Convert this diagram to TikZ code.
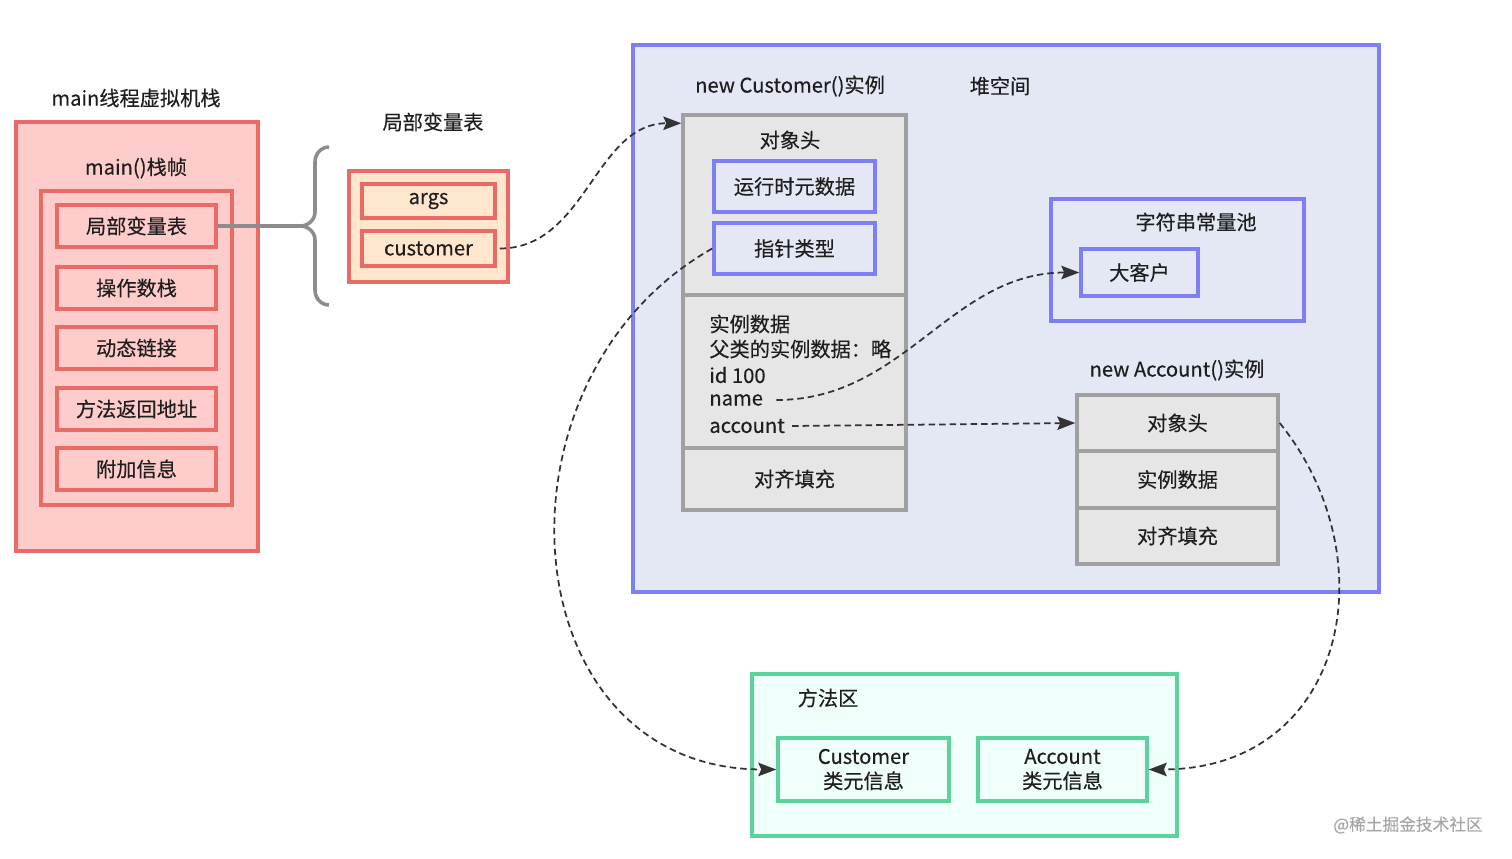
\documentclass[tikz,border=0pt]{standalone}
\usepackage{fontspec}
\setmainfont{Noto Sans CJK SC}[FakeBold=0.3]
\usetikzlibrary{arrows.meta}

\definecolor{redline}{HTML}{EA6B66}
\definecolor{redfill}{HTML}{FFCCCC}
\definecolor{orangefill}{HTML}{FFE6CC}
\definecolor{blueline}{HTML}{7F7FF5}
\definecolor{bluefill}{HTML}{E4E7F4}
\definecolor{grayline}{HTML}{A0A0A0}
\definecolor{grayfill}{HTML}{E6E6E6}
\definecolor{greenline}{HTML}{5CD39D}
\definecolor{greenfill}{HTML}{EFFFFA}
\definecolor{textcol}{HTML}{1E1E1E}

\begin{document}
\begin{tikzpicture}[x=0.02cm,y=-0.02cm,
  every node/.style={font=\fontsize{11.5}{14}\selectfont,text=textcol},
  redbox/.style={draw=redline,fill=redfill,line width=2pt,minimum width=3.18cm,minimum height=0.84cm},
  orangebox/.style={draw=redline,fill=orangefill,line width=2pt},
  bluebox/.style={draw=blueline,fill=bluefill,line width=2pt},
  graybox/.style={draw=grayline,fill=grayfill,line width=2pt},
  greenbox/.style={draw=greenline,fill=greenfill,line width=2pt},
  ref/.style={draw=black!80,line width=1pt,dash pattern=on 0.13cm off 0.08cm,
    -{Stealth[length=0.36cm,width=0.27cm,inset=0.06cm]}},
  textline/.style={anchor=west,inner sep=0pt}]
\useasboundingbox (0,0) rectangle (1512,859);

% main thread stack
\node (stacktitle) at (136,98) {main线程虚拟机栈};
\node[redbox,minimum width=4.84cm,minimum height=8.58cm] (stack) at (137,336.5) {};
\node (frametitle) at (136,168) {main()栈帧};
\node[redbox,minimum width=3.82cm,minimum height=6.28cm] (frame) at (136.5,348) {};
\node[redbox] (lvt) at (136.5,226) {局部变量表};
\node[redbox] (opstack) at (136.5,288) {操作数栈};
\node[redbox] (dynlink) at (136.5,348) {动态链接};
\node[redbox] (retaddr) at (136.5,409) {方法返回地址};
\node[redbox] (extra) at (136.5,469) {附加信息};

% brace
\coordinate (brace) at (300,226);
\draw[draw=black!45,line width=2pt] (329,147) to[out=180,in=90] (315,162) -- (315,212)
  to[out=270,in=0] (brace) to[out=0,in=90] (315,240) -- (315,290) to[out=270,in=180] (329,305);
\draw[draw=black!45,line width=2pt] (lvt.east) -- (brace);

% local variable table
\node (lvttitle) at (433,122) {局部变量表};
\node[orangebox,minimum width=3.18cm,minimum height=2.22cm] (lvtbox) at (428.5,226.5) {};
\node[orangebox,minimum width=2.66cm,minimum height=0.68cm] (args) at (428.5,201) {args};
\node[orangebox,minimum width=2.66cm,minimum height=0.7cm] (customer) at (428.5,248.5) {customer};

% heap
\node[bluebox,minimum width=14.92cm,minimum height=10.94cm] (heap) at (1006,318.5) {};
\node (custitle) at (790,86) {new Customer()实例};
\node (heaptitle) at (1000,86) {堆空间};
\node[graybox,minimum width=4.46cm,minimum height=3.6cm] (cushead) at (794.5,205) {};
\node[graybox,minimum width=4.46cm,minimum height=3.06cm] (cusdata) at (794.5,371.5) {};
\node[graybox,minimum width=4.46cm,minimum height=1.24cm] (cuspad) at (794.5,479) {对齐填充};
\node (cusheadlabel) at (790,140) {对象头};
\node[bluebox,minimum width=3.22cm,minimum height=1.02cm] (meta) at (794.5,186.5) {运行时元数据};
\node[bluebox,minimum width=3.22cm,minimum height=1.02cm] (ptr) at (794.5,248.5) {指针类型};
\node[textline] (d1) at (709,324) {实例数据};
\node[textline] (d2) at (709,349) {父类的实例数据：略};
\node[textline] (d3) at (709,375) {id 100};
\node[textline] (name) at (709,400) {name};
\node[textline] (account) at (709,426) {account};

% string constant pool
\node[bluebox,minimum width=5.06cm,minimum height=2.44cm] (pool) at (1177.5,260) {};
\node (pooltitle) at (1196,222) {字符串常量池};
\node[bluebox,minimum width=2.34cm,minimum height=0.94cm] (bigcust) at (1139.5,272.5) {大客户};

% account instance
\node (acctitle) at (1177,370) {new Account()实例};
\node[graybox,minimum width=4.02cm,minimum height=1.12cm] (acchead) at (1177.5,423) {对象头};
\node[graybox,minimum width=4.02cm,minimum height=1.14cm] (accdata) at (1177.5,479.5) {实例数据};
\node[graybox,minimum width=4.02cm,minimum height=1.12cm] (accpad) at (1177.5,536) {对齐填充};

% method area
\node[greenbox,minimum width=8.5cm,minimum height=3.24cm] (method) at (964.5,755) {};
\node (methodtitle) at (828,698) {方法区};
\node[greenbox,minimum width=3.42cm,minimum height=1.26cm,align=center] (cuscls) at (863.5,769.5) {Customer\\类元信息};
\node[greenbox,minimum width=3.38cm,minimum height=1.26cm,align=center] (acccls) at (1062.5,769.5) {Account\\类元信息};

% references
\draw[ref] ([xshift=0.06cm]customer.east) to[out=0,in=180] ([yshift=-0.2cm]cushead.north west);
\draw[ref] (ptr.west) .. controls (480,380) and (510,769) .. (cuscls.west);
\draw[ref] ([xshift=0.26cm]name.east) to[out=0,in=180] (bigcust.west);
\draw[ref] ([xshift=0.14cm]account.east) -- (acchead.west);
\draw[ref] (acchead.east) .. controls (1390,560) and (1345,769) .. (acccls.east);

\node[font=\fontsize{9.5}{11}\selectfont,text=black!35] (mark) at (1408,825) {@稀土掘金技术社区};
\end{tikzpicture}
\end{document}
